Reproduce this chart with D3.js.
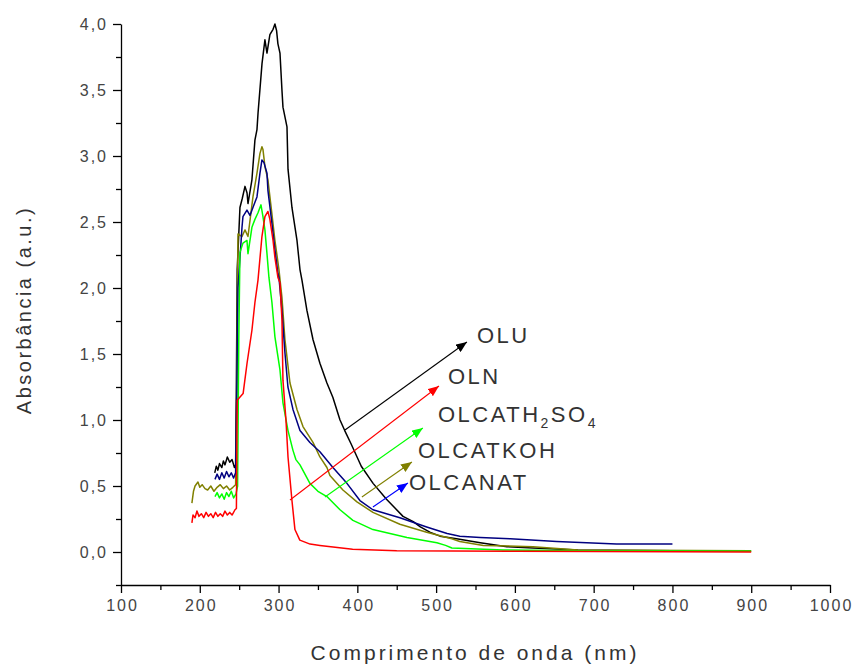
<!DOCTYPE html>
<html>
<head>
<meta charset="utf-8">
<script src="https://cdn.jsdelivr.net/npm/d3@7"></script>
<style>
body { margin: 0; background: #fff; }
text { font-family: "Liberation Sans", Arial, sans-serif; }
</style>
</head>
<body>
<svg id="chart" width="854" height="665"></svg>
<script>
// UV-Vis spectra, values: [wavelength nm, absorbance]
const OLU = [[219,0.60],[221,0.65],[223,0.62],[225,0.67],[228,0.64],[230,0.69],[232,0.66],[235,0.72],[238,0.68],[241,0.70],[244,0.64],[245.5,0.66],[246.5,1.3],[247.5,2.14],[251,2.61],[254,2.68],[257.4,2.77],[260,2.72],[261.2,2.64],[266.2,2.82],[270,3.12],[272.6,3.2],[274,3.33],[279,3.7],[282.7,3.88],[285.3,3.78],[289,3.92],[293,3.96],[295.4,4.0],[297.5,3.95],[299.2,3.85],[301.8,3.78],[304.3,3.5],[305.6,3.37],[310.7,3.22],[312,2.9],[317,2.61],[323.4,2.36],[327.2,2.14],[329.7,2.06],[336,1.83],[343.7,1.61],[352.5,1.43],[361.4,1.28],[369,1.17],[378,1.0],[384,0.92],[392,0.82],[405,0.65],[420,0.52],[437,0.40],[458,0.27],[471,0.23],[480,0.19],[492,0.15],[505,0.12],[526,0.10],[556,0.07],[590,0.04],[623,0.03],[680,0.015],[800,0.01]];
const OLN = [[190,0.22],[191.4,0.28],[194,0.26],[196.4,0.31],[199,0.27],[202,0.29],[205,0.26],[208,0.30],[211,0.27],[214,0.29],[217,0.26],[220,0.30],[223,0.27],[226,0.29],[229,0.27],[232,0.31],[235,0.28],[238,0.30],[241,0.28],[244.7,0.32],[246.5,0.33],[247.5,1.15],[255,1.2],[260,1.43],[266.2,1.68],[270,1.89],[273.9,2.06],[278.9,2.39],[282.7,2.54],[286.5,2.58],[289,2.52],[293,2.36],[295.4,2.23],[299.2,2.08],[301.8,2.04],[304.3,1.76],[305.6,1.3],[309.4,1.0],[312,0.72],[317,0.39],[320.8,0.17],[327,0.09],[340,0.06],[352.5,0.05],[394,0.02],[450,0.01],[600,0.005],[900,0.0]];
const OLCATH2SO4 = [[219.3,0.42],[222,0.45],[225,0.41],[228,0.44],[231,0.40],[234,0.45],[237,0.42],[240,0.46],[243,0.41],[246,0.44],[248,0.5],[249.5,1.6],[251,2.27],[254.8,2.34],[259.9,2.36],[261.2,2.26],[266.2,2.46],[270,2.52],[273.9,2.57],[277.7,2.63],[280.2,2.54],[282.7,2.44],[285.3,2.26],[287.8,2.08],[291.6,1.89],[295.4,1.63],[301.8,1.38],[305.6,1.13],[312,0.92],[318.3,0.77],[322,0.70],[327.2,0.66],[339.8,0.52],[350,0.46],[361.4,0.42],[378,0.32],[394.4,0.24],[419.8,0.17],[463,0.11],[501,0.07],[512,0.05],[520,0.03],[585,0.015],[680,0.01],[900,0.005]];
const OLCATKOH = [[190,0.37],[192,0.46],[194,0.50],[197.7,0.53],[200,0.49],[203,0.51],[206.6,0.48],[210,0.47],[214,0.50],[218,0.46],[222,0.49],[226,0.51],[230,0.48],[234,0.50],[238,0.47],[242,0.49],[245.5,0.51],[247,1.2],[248.5,2.41],[253.6,2.39],[257.4,2.44],[261.2,2.39],[267.5,2.69],[272.6,2.87],[276.4,3.02],[278.9,3.07],[280.2,3.05],[282.7,2.92],[286.5,2.82],[291.6,2.56],[295.4,2.36],[300.5,2.14],[304.3,1.93],[308.1,1.61],[314.5,1.28],[323.4,1.08],[331,0.95],[343.7,0.83],[352.5,0.72],[361.4,0.64],[365.2,0.58],[381.7,0.47],[399.5,0.38],[419.8,0.30],[454,0.21],[488,0.15],[520,0.10],[530,0.08],[560,0.05],[623,0.04],[680,0.015],[900,0.01]];
const OLCANAT = [[219.3,0.55],[222,0.59],[225,0.55],[228,0.60],[231,0.56],[234,0.61],[237,0.57],[240,0.60],[243,0.56],[245.5,0.60],[247,1.2],[248.5,2.0],[253.6,2.46],[254.8,2.54],[259.9,2.59],[263.7,2.55],[267.5,2.61],[272.6,2.69],[276.4,2.87],[278.9,2.97],[281.5,2.95],[285.3,2.87],[286.5,2.74],[291.6,2.49],[295.4,2.29],[299.2,2.11],[300.5,2.08],[304.3,1.83],[308.1,1.51],[311.9,1.25],[318.3,1.08],[327.2,0.92],[339.8,0.83],[352.5,0.76],[369,0.64],[386.8,0.52],[403.3,0.39],[419.8,0.32],[454,0.26],[488,0.19],[514,0.14],[530,0.12],[556,0.11],[594,0.10],[653,0.08],[729,0.06],[800,0.06]];

const xTicks = [100,200,300,400,500,600,700,800,900,1000];
const xMinorTicks = [150,250,350,450,550,650,750,850,950];
const yTicks = [0,0.5,1,1.5,2,2.5,3,3.5,4];
const yMinorTicks = [-0.25,0.25,0.75,1.25,1.75,2.25,2.75,3.25,3.75];

// annotation arrows (data units) and label anchors
const labelNames = ["OLU","OLN","OLCATH2SO4","OLCATKOH","OLCANAT"];
const arrowFrom = [[384.3,0.924],[314.5,0.394],[358.9,0.417],[405.8,0.417],[419.8,0.341]];
const arrowTo = [[539.1,1.591],[503.6,1.258],[483.2,0.939],[469.3,0.682],[464.2,0.523]];
const labelAt = [[551.8,1.583],[515,1.273],[502.3,0.985],[476.9,0.712],[465.5,0.47]];

const series = [
  { name: "OLU", data: OLU, color: "#000000", arrow: "#000000" },
  { name: "OLCATKOH", data: OLCATKOH, color: "#808000", arrow: "#808000" },
  { name: "OLCANAT", data: OLCANAT, color: "#000080", arrow: "#0000ff" },
  { name: "OLCATH2SO4", data: OLCATH2SO4, color: "#00ff00", arrow: "#00ff00" },
  { name: "OLN", data: OLN, color: "#ff0000", arrow: "#ff0000" },
];

const svg = d3.select("#chart");
const x = d3.scaleLinear().domain([100, 1000]).range([121, 830]);
const y = d3.scaleLinear().domain([-0.25, 4]).range([585, 24]);
const comma = d => d3.format(".1f")(d).replace(".", ",");

// axes
const xAxis = svg.append("g").attr("transform", `translate(0,${y(-0.25)})`)
  .call(d3.axisBottom(x).tickValues(xTicks).tickSize(8).tickSizeOuter(0).tickPadding(7).tickFormat(d3.format("d")));
svg.append("g").attr("transform", `translate(0,${y(-0.25)})`)
  .call(d3.axisBottom(x).tickValues(xMinorTicks).tickSize(5).tickFormat(""))
  .select(".domain").remove();
const yAxis = svg.append("g").attr("transform", `translate(${x(100)},0)`)
  .call(d3.axisLeft(y).tickValues(yTicks).tickSize(8).tickSizeOuter(0).tickPadding(5).tickFormat(comma));
svg.append("g").attr("transform", `translate(${x(100)},0)`)
  .call(d3.axisLeft(y).tickValues(yMinorTicks).tickSize(5).tickFormat(""))
  .select(".domain").remove();

svg.selectAll(".domain, .tick line").attr("stroke", "#000").attr("stroke-width", 1.3);
xAxis.selectAll("text").attr("font-size", 16).attr("fill", "#444")
  .style("letter-spacing", "2px").attr("dx", 1);
yAxis.selectAll("text").attr("font-size", 16).attr("fill", "#444")
  .style("letter-spacing", "2px");

svg.append("text")
  .attr("x", 475).attr("y", 660)
  .attr("text-anchor", "middle").attr("font-size", 21).attr("fill", "#333")
  .style("letter-spacing", "3px")
  .text("Comprimento de onda (nm)");
svg.append("text")
  .attr("transform", "translate(31,310) rotate(-90)")
  .attr("text-anchor", "middle").attr("font-size", 20).attr("fill", "#333")
  .style("letter-spacing", "2.5px")
  .text("Absorbância (a.u.)");

// spectra
const line = d3.line().x(d => x(d[0])).y(d => y(d[1]));
svg.append("g").selectAll("path")
  .data(series)
  .enter()
  .append("path")
  .attr("d", d => line(d.data))
  .attr("fill", "none")
  .attr("stroke", d => d.color)
  .attr("stroke-width", 1.5)
  .attr("stroke-linejoin", "round");

// arrows
const defs = svg.append("defs");
series.forEach((s, i) => {
  defs.append("marker")
    .attr("id", "head" + i)
    .attr("markerUnits", "userSpaceOnUse")
    .attr("markerWidth", 12).attr("markerHeight", 9)
    .attr("refX", 11).attr("refY", 4.5)
    .attr("orient", "auto")
    .append("path")
    .attr("d", "M0,0 L11,4.5 L0,9 Z")
    .attr("fill", s.arrow);
});

series.forEach((s, i) => {
  const k = labelNames.indexOf(s.name);
  svg.append("line")
    .attr("x1", x(arrowFrom[k][0])).attr("y1", y(arrowFrom[k][1]))
    .attr("x2", x(arrowTo[k][0])).attr("y2", y(arrowTo[k][1]))
    .attr("stroke", s.arrow).attr("stroke-width", 1.1)
    .attr("marker-end", `url(#head${i})`);

  const t = svg.append("text")
    .attr("x", x(labelAt[k][0])).attr("y", y(labelAt[k][1]))
    .attr("font-size", 22).attr("fill", "#333")
    .style("letter-spacing", "2.5px");
  if (s.name === "OLCATH2SO4") {
    t.append("tspan").text("OLCATH");
    t.append("tspan").attr("dy", 6).attr("font-size", 14).text("2");
    t.append("tspan").attr("dy", -6).text("SO");
    t.append("tspan").attr("dy", 6).attr("font-size", 14).text("4");
  } else {
    t.text(s.name);
  }
});
</script>
</body>
</html>
